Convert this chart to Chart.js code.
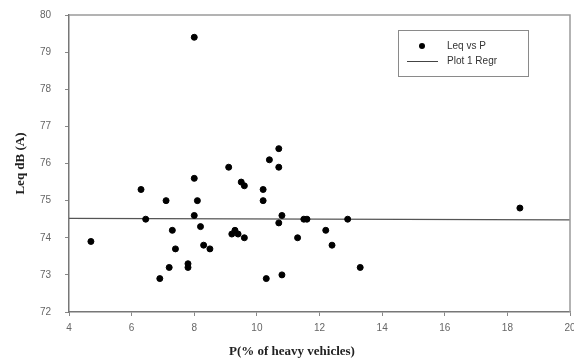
<!DOCTYPE html>
<html>
<head>
<meta charset="utf-8">
<script src="https://cdn.jsdelivr.net/npm/chart.js@4/dist/chart.umd.min.js"></script>
<style>
html,body{margin:0;padding:0;background:#fff;}
#wrap{width:574px;height:362px;}
</style>
</head>
<body>
<div id="wrap"><canvas id="c" width="574" height="362"></canvas></div>
<script>
// ---- data ----
const pctHeavy = [4.7, 6.3, 6.45, 6.9, 7.1, 7.2, 7.3, 7.4, 7.8, 7.8, 8.0, 8.0, 8.0, 8.1, 8.2, 8.3, 8.5,
  9.1, 9.2, 9.3, 9.4, 9.6, 9.5, 9.6, 10.2, 10.2, 10.3, 10.4, 10.7, 10.7, 10.7, 10.8, 10.8,
  11.3, 11.5, 11.6, 12.2, 12.4, 12.9, 13.3, 18.4];
const leq = [73.9, 75.3, 74.5, 72.9, 75.0, 73.2, 74.2, 73.7, 73.3, 73.2, 79.4, 75.6, 74.6, 75.0, 74.3, 73.8, 73.7,
  75.9, 74.1, 74.2, 74.1, 74.0, 75.5, 75.4, 75.3, 75.0, 72.9, 76.1, 76.4, 75.9, 74.4, 74.6, 73.0,
  74.0, 74.5, 74.5, 74.2, 73.8, 74.5, 73.2, 74.8];
const regX = [4, 20];
const regY = [74.52, 74.48];
const xTickValues = [4, 6, 8, 10, 12, 14, 16, 18, 20];
const yTickValues = [72, 73, 74, 75, 76, 77, 78, 79, 80];
const seriesNames = ['Leq vs P', 'Plot 1 Regr'];
const xTitle = 'P(% of heavy vehicles)';
const yTitle = 'Leq dB (A)';

const scatterData = pctHeavy.map((x, i) => ({x: x, y: leq[i]}));
const regData = regX.map((x, i) => ({x: x, y: regY[i]}));

const frameAndExtras = {
  id: 'frameAndExtras',
  afterDraw(chart) {
    const {ctx, chartArea: a} = chart;
    ctx.save();
    // top and right frame
    ctx.strokeStyle = '#9a9a9a';
    ctx.lineWidth = 1.5;
    ctx.beginPath();
    ctx.moveTo(a.left, a.top);
    ctx.lineTo(a.right, a.top);
    ctx.lineTo(a.right, a.bottom);
    ctx.stroke();

    // legend box
    const lx = 398, ly = 30, lw = 130, lh = 46;
    ctx.fillStyle = '#fff';
    ctx.fillRect(lx, ly, lw, lh);
    ctx.strokeStyle = '#8a8a8a';
    ctx.lineWidth = 1;
    ctx.strokeRect(lx + 0.5, ly + 0.5, lw, lh);
    // entry 1: dot
    ctx.fillStyle = '#000';
    ctx.beginPath();
    ctx.arc(422, 46, 3, 0, Math.PI * 2);
    ctx.fill();
    // entry 2: line
    ctx.strokeStyle = '#444';
    ctx.lineWidth = 1;
    ctx.beginPath();
    ctx.moveTo(407, 61.5);
    ctx.lineTo(438, 61.5);
    ctx.stroke();
    ctx.fillStyle = '#333';
    ctx.font = '10px "Liberation Sans", Arial, sans-serif';
    ctx.textBaseline = 'middle';
    ctx.textAlign = 'left';
    ctx.fillText(seriesNames[0], 447, 46);
    ctx.fillText(seriesNames[1], 447, 61);

    // x axis title
    ctx.fillStyle = '#222';
    ctx.font = 'bold 13px "Liberation Serif", "Times New Roman", serif';
    ctx.textAlign = 'center';
    ctx.fillText(xTitle, a.left + a.width * 0.445, 352);
    ctx.restore();
  }
};

new Chart(document.getElementById('c'), {
  type: 'scatter',
  data: {
    datasets: [
      {
        label: seriesNames[0],
        data: scatterData,
        backgroundColor: '#000',
        borderColor: '#000',
        pointRadius: 3,
        pointHoverRadius: 3,
        showLine: false,
        order: 1
      },
      {
        label: seriesNames[1],
        data: regData,
        type: 'line',
        showLine: true,
        borderColor: '#555',
        borderWidth: 1.2,
        pointRadius: 0,
        fill: false,
        order: 2
      }
    ]
  },
  options: {
    responsive: false,
    animation: false,
    layout: {padding: {top: 15, right: 4, left: 0, bottom: 0}},
    plugins: {legend: {display: false}, tooltip: {enabled: false}},
    scales: {
      x: {
        type: 'linear',
        min: 4, max: 20,
        afterBuildTicks(scale) { scale.ticks = xTickValues.map(v => ({value: v})); },
        afterFit(scale) { scale.height = 50; scale.paddingLeft = 0; scale.paddingRight = 0; },
        ticks: {
          color: '#666',
          font: {family: '"Liberation Sans", Arial, sans-serif', size: 10},
          padding: 6,
          maxRotation: 0,
          autoSkip: false
        },
        grid: {display: true, drawOnChartArea: false, drawTicks: true, tickLength: 4, color: '#888'},
        border: {display: true, color: '#777', width: 1.5}
      },
      y: {
        type: 'linear',
        min: 72, max: 80,
        afterBuildTicks(scale) { scale.ticks = yTickValues.map(v => ({value: v})); },
        afterFit(scale) { scale.width = 69; scale.paddingTop = 0; scale.paddingBottom = 0; },
        ticks: {
          color: '#666',
          font: {family: '"Liberation Sans", Arial, sans-serif', size: 10},
          padding: 14,
          autoSkip: false
        },
        grid: {display: true, drawOnChartArea: false, drawTicks: true, tickLength: 4, color: '#888'},
        border: {display: true, color: '#777', width: 1.5},
        title: {
          display: true,
          text: yTitle,
          color: '#222',
          font: {family: '"Liberation Serif", "Times New Roman", serif', size: 13, weight: 'bold'},
          padding: {top: 13, bottom: 0}
        }
      }
    }
  },
  plugins: [frameAndExtras]
});
</script>
</body>
</html>
